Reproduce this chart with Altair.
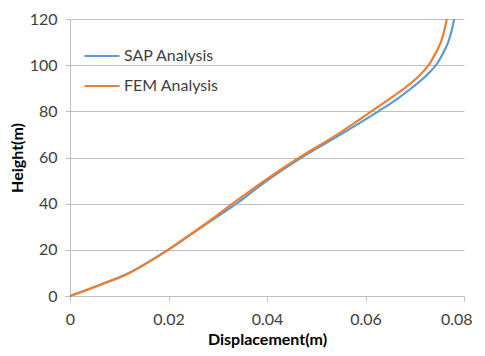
import altair as alt
import pandas as pd

heights = [0, 5, 10, 20, 30, 40, 50, 60, 70, 80, 85, 90, 95, 100, 105, 110, 115, 120]
sap_disp = [0, 0.0063, 0.0120, 0.0199, 0.0268, 0.0338, 0.0400, 0.0470, 0.0550, 0.0626,
            0.0662, 0.0693, 0.0721, 0.0743, 0.0757, 0.0768, 0.0775, 0.0780]
fem_disp = [0, 0.0063, 0.0120, 0.0199, 0.0267, 0.0330, 0.0395, 0.0466, 0.0543, 0.0612,
            0.0646, 0.0679, 0.0707, 0.0728, 0.0742, 0.0753, 0.0760, 0.0765]
series = ["SAP Analysis", "FEM Analysis"]
x_ticks = [0, 0.02, 0.04, 0.06, 0.08]
y_ticks = [0, 20, 40, 60, 80, 100, 120]

rows = []
for i, h in enumerate(heights):
    rows.append({"series": series[0], "h": h, "d": sap_disp[i], "o": i})
for i, h in enumerate(heights):
    rows.append({"series": series[1], "h": h, "d": fem_disp[i], "o": i})
df = pd.DataFrame(rows)

font = "Lato"

chart = alt.Chart(df).mark_line(strokeWidth=2.2, interpolate="catmull-rom").encode(
    x=alt.X("d:Q", title="Displacement(m)",
            scale=alt.Scale(domain=[0, 0.08], nice=False),
            axis=alt.Axis(values=x_ticks, format="~g", grid=False,
                          labelFlush=False,
                          labelAlign={"condition": {"test": "datum.value >= 0.079", "value": "right"}, "value": "center"},
                          labelOffset={"condition": {"test": "datum.value >= 0.079", "value": 8}, "value": 0},
                          domainColor="#BFBFBF", tickColor="#BFBFBF", tickSize=5,
                          labelFontSize=16, labelColor="#404040", labelPadding=10,
                          titleFontSize=16, titleFontWeight="bold", titleColor="#000000",
                          titlePadding=4)),
    y=alt.Y("h:Q", title="Height(m)",
            scale=alt.Scale(domain=[0, 120], nice=False),
            axis=alt.Axis(values=y_ticks, grid=True, gridColor="#BFBFBF",
                          labelFlush=False,
                          domainColor="#BFBFBF", tickColor="#BFBFBF", tickSize=5,
                          labelFontSize=16, labelColor="#404040", labelPadding=8,
                          titleFontSize=16, titleFontWeight="bold", titleColor="#000000",
                          titlePadding=4)),
    color=alt.Color("series:N", sort=series,
                    scale=alt.Scale(domain=series, range=["#5B9BD5", "#ED7D31"]),
                    legend=alt.Legend(title=None, orient="none", legendX=13, legendY=18,
                                      symbolType="stroke", symbolSize=1225, symbolStrokeWidth=2.2,
                                      labelFontSize=16, labelColor="#404040", labelOffset=3,
                                      rowPadding=3, labelFont=font)),
    order="o:Q",
).properties(
    width=394, height=277,
    padding={"left": 62, "top": 11, "right": 13, "bottom": 52},
    autosize=alt.AutoSizeParams(type="none"),
).configure(font=font).configure_view(stroke=None).configure_axis(labelFont=font, titleFont=font)

chart.save("out.html", embed_options={"renderer": "svg", "actions": False})
